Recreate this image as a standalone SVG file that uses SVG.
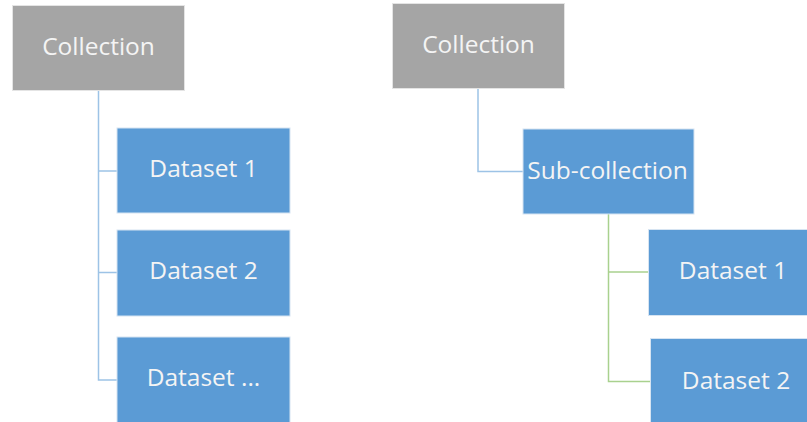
<svg xmlns="http://www.w3.org/2000/svg" width="807" height="422" viewBox="0 0 807 422">
<style>
.gray{fill:#a5a5a5;stroke:#e4e4e4;stroke-width:1}
.blue{fill:#5b9bd5;stroke:#d6e4f2;stroke-width:1}
.t{font-family:"Open Sans","Noto Sans",sans-serif;font-size:24.5px;fill:#f4f4f4;text-anchor:middle}
.lb{fill:none;stroke:#9dc3e6;stroke-width:1.5}
.lg{fill:none;stroke:#a9d18e;stroke-width:1.5}
</style>
<rect width="807" height="422" fill="#ffffff"/>
<g id="connectors">
<path class="lb" d="M98.5 90 V380 H117 M98.5 171 H117 M98.5 272.5 H117"/>
<path class="lb" d="M478 88 V171.5 H523"/>
<path class="lg" d="M608.5 214 V381.5 H650 M608.5 272 H648"/>
</g>
<g id="collection-left"><rect class="gray" x="12.5" y="5.5" width="172" height="85"/><text class="t" x="98.5" y="54.5">Collection</text></g>
<g id="dataset1-left"><rect class="blue" x="117" y="128" width="173" height="85"/><text class="t" x="203.5" y="177">Dataset 1</text></g>
<g id="dataset2-left"><rect class="blue" x="117" y="230" width="173" height="86"/><text class="t" x="203.5" y="279">Dataset 2</text></g>
<g id="dataset3-left"><rect class="blue" x="117" y="337" width="173" height="95"/><text class="t" x="203.5" y="386">Dataset ...</text></g>
<g id="collection-right"><rect class="gray" x="392.5" y="3.5" width="172" height="85"/><text class="t" x="478.5" y="52.5">Collection</text></g>
<g id="subcollection"><rect class="blue" x="523" y="129" width="171" height="85"/><text class="t" x="607.5" y="178.5">Sub-collection</text></g>
<g id="dataset1-right"><rect class="blue" x="648.5" y="229.5" width="173" height="86"/><text class="t" x="733" y="279">Dataset 1</text></g>
<g id="dataset2-right"><rect class="blue" x="650.5" y="338.5" width="173" height="95"/><text class="t" x="736" y="389">Dataset 2</text></g>
</svg>
